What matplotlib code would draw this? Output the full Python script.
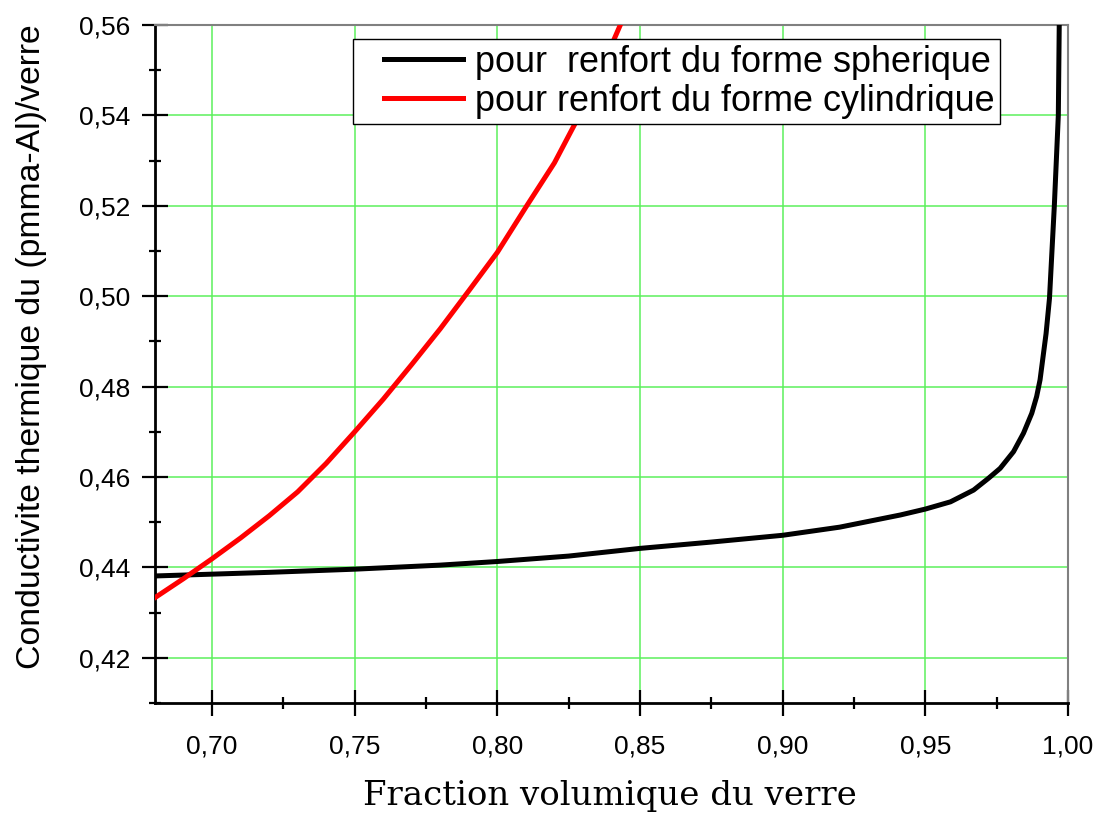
import matplotlib
matplotlib.use("Agg")
import numpy as np
import matplotlib.pyplot as plt
from matplotlib.ticker import MultipleLocator, FuncFormatter
from matplotlib.legend_handler import HandlerLine2D

# Data
x_sph = [0.68, 0.70, 0.72, 0.75, 0.78, 0.80, 0.825, 0.85, 0.875, 0.90,
         0.92, 0.9413, 0.95, 0.9588, 0.9669, 0.9721, 0.9762, 0.9809,
         0.9844, 0.9873, 0.9890, 0.9902, 0.9923, 0.9935, 0.9952, 0.9966,
         0.9970]
y_sph = [0.4381, 0.4385, 0.4389, 0.4396, 0.4405, 0.4413, 0.4425, 0.4442,
         0.4456, 0.4471, 0.4489, 0.4516, 0.4529, 0.4545, 0.4571, 0.4597,
         0.4619, 0.4656, 0.4697, 0.4741, 0.4778, 0.4815, 0.4917, 0.4995,
         0.5200, 0.5400, 0.5650]

x_cyl = [0.68, 0.69, 0.70, 0.71, 0.72, 0.73, 0.74, 0.75, 0.76, 0.77,
         0.78, 0.79, 0.80, 0.81, 0.82, 0.83, 0.84, 0.845]
y_cyl = [0.4333, 0.4375, 0.4419, 0.4465, 0.4514, 0.4567, 0.4630, 0.4700,
         0.4772, 0.4849, 0.4928, 0.5012, 0.5097, 0.5197, 0.5295, 0.5415,
         0.5555, 0.5628]

label_sph = "pour  renfort du forme spherique"
label_cyl = "pour renfort du forme cylindrique"
xlabel = "Fraction volumique du verre"
ylabel = "Conductivite thermique du (pmma-Al)/verre"

plt.rcParams['font.family'] = ['Liberation Sans', 'DejaVu Sans']


class ShiftedLine(HandlerLine2D):
    """Legend line that leaves an empty gap at its left side."""
    def create_artists(self, legend, orig_handle, xdescent, ydescent,
                       width, height, fontsize, trans):
        arts = super().create_artists(legend, orig_handle, xdescent,
                                      ydescent, width, height, fontsize,
                                      trans)
        for a in arts:
            xd = np.asarray(a.get_xdata(), dtype=float)
            if len(xd) >= 2:
                a.set_xdata(np.linspace(xd[0] + 0.25 * width, xd[-1],
                                        len(xd)))
        return arts


fig = plt.figure(figsize=(11.18, 8.14), dpi=100)
ax = fig.add_axes([0.1386, 0.1364, 0.9553 - 0.1386, 0.9693 - 0.1364])

ax.plot(x_sph, y_sph, color='black', lw=3.6, label=label_sph, zorder=3)
ax.plot(x_cyl, y_cyl, color='#ff0000', lw=3.6, label=label_cyl, zorder=3)

ax.set_xlim(0.68, 1.00)
ax.set_ylim(0.41, 0.56)

ax.xaxis.set_major_locator(MultipleLocator(0.05))
ax.xaxis.set_minor_locator(MultipleLocator(0.025))
ax.yaxis.set_major_locator(MultipleLocator(0.02))
ax.yaxis.set_minor_locator(MultipleLocator(0.01))
fmt = FuncFormatter(lambda v, p: f"{v:.2f}".replace('.', ','))
ax.xaxis.set_major_formatter(fmt)
ax.yaxis.set_major_formatter(fmt)

ax.grid(True, which='major', color='#5cf05c', lw=1.1, zorder=0)
ax.set_axisbelow(True)

for s in ['left', 'bottom']:
    ax.spines[s].set_color('black')
    ax.spines[s].set_linewidth(2.0)
for s in ['top', 'right']:
    ax.spines[s].set_color('#808080')
    ax.spines[s].set_linewidth(1.5)

ax.tick_params(which='major', direction='inout', length=19, width=1.6,
               labelsize=19, top=False, right=False)
ax.tick_params(which='minor', direction='inout', length=9, width=1.6,
               top=False, right=False)
ax.tick_params(axis='y', which='major', pad=8)
ax.tick_params(axis='x', which='major', pad=13)

ax.set_xlabel(xlabel, fontsize=24.5, family=['DejaVu Serif'], va='top')
ax.xaxis.set_label_coords(0.4984, -0.113)
ax.set_ylabel(ylabel, fontsize=24.3)
ax.yaxis.set_label_coords(-0.118, 0.5258)

leg = ax.legend(loc='upper right', bbox_to_anchor=(0.925, 0.9789),
                fontsize=25.9, frameon=True, fancybox=False, framealpha=1,
                edgecolor='black', handlelength=2.9, handletextpad=0.33,
                borderpad=0.15, labelspacing=0.12, borderaxespad=0,
                handler_map={plt.Line2D: ShiftedLine()})
leg.get_frame().set_linewidth(1.0)
for ln in leg.get_lines():
    ln.set_linewidth(3.6)

fig.savefig("out.png", dpi=100)
